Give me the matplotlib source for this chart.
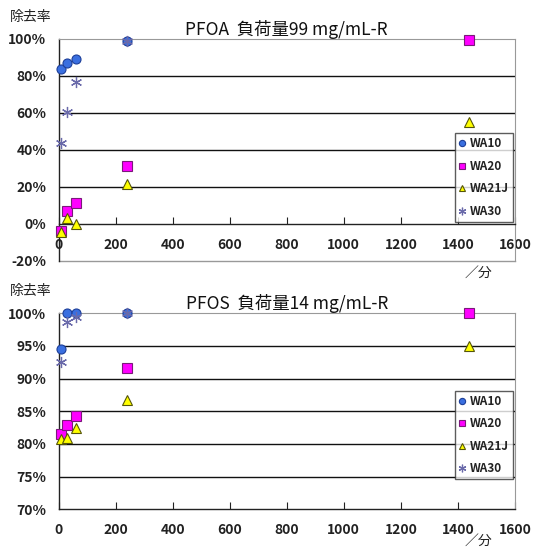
import matplotlib
matplotlib.use("Agg")
import matplotlib.pyplot as plt
from matplotlib.ticker import FuncFormatter
from matplotlib.lines import Line2D

plt.rcParams['font.family'] = ['Noto Sans CJK JP', 'DejaVu Sans']

series = ["WA10", "WA20", "WA21J", "WA30"]

# PFOA (top)
pfoa_x = {
    "WA10": [10, 30, 60, 240],
    "WA20": [10, 30, 60, 240, 1440],
    "WA21J": [10, 30, 60, 240, 1440],
    "WA30": [10, 30, 60, 240],
}
pfoa_y = {
    "WA10": [84, 87, 89, 99],
    "WA20": [-3.6, 7, 11.5, 31.5, 99.5],
    "WA21J": [-4.5, 3, 0, 21.6, 55],
    "WA30": [43.6, 60.5, 76.8, 99],
}
# PFOS (bottom)
pfos_x = {
    "WA10": [10, 30, 60, 240],
    "WA20": [10, 30, 60, 240, 1440],
    "WA21J": [10, 30, 60, 240, 1440],
    "WA30": [10, 30, 60, 240],
}
pfos_y = {
    "WA10": [94.6, 100, 100, 100],
    "WA20": [81.5, 82.9, 84.3, 91.6, 100],
    "WA21J": [80.7, 80.9, 82.4, 86.8, 95],
    "WA30": [92.5, 98.6, 99.5, 100],
}

x_ticks = [0, 200, 400, 600, 800, 1000, 1200, 1400, 1600]
pfoa_yticks = [-20, 0, 20, 40, 60, 80, 100]
pfos_yticks = [70, 75, 80, 85, 90, 95, 100]

styles = {
    "WA10": dict(marker='o', markerfacecolor='#3a6fe0', markeredgecolor='#1d3f99', markersize=6.5, markeredgewidth=0.8),
    "WA20": dict(marker='s', markerfacecolor='#ff00ff', markeredgecolor='#7a1a7a', markersize=6.5, markeredgewidth=0.8),
    "WA21J": dict(marker='^', markerfacecolor='#ffff00', markeredgecolor='#55550a', markersize=7, markeredgewidth=0.8),
    "WA30": dict(marker=(6, 2, 0), markerfacecolor='#6a6aaa', markeredgecolor='#6a6aaa', markersize=8, markeredgewidth=0.9),
}
leg_sizes = {"WA10": 4.5, "WA20": 4.5, "WA21J": 5, "WA30": 5.5}

fig = plt.figure(figsize=(5.33, 5.49), dpi=100)

def make(ax, xs, ys, yticks, ylim, xaxis_at, title, leg_y):
    for s in series:
        ax.plot(xs[s], ys[s], linestyle='none', clip_on=False, zorder=3, label=s, **styles[s])
    ax.set_xlim(0, 1600)
    ax.set_ylim(*ylim)
    ax.set_yticks(yticks)
    ax.set_xticks(x_ticks)
    ax.yaxis.set_major_formatter(FuncFormatter(lambda v, p: f"{int(round(v))}%"))
    for yv in yticks:
        if ylim[0] < yv < ylim[1] and yv != xaxis_at:
            ax.axhline(yv, color='#111111', linewidth=1.0, zorder=1)
    ax.spines['top'].set_color('#999999')
    ax.spines['right'].set_color('#999999')
    ax.spines['left'].set_color('#222222')
    ax.spines['left'].set_linewidth(1.0)
    ax.spines['bottom'].set_position(('data', xaxis_at))
    ax.spines['bottom'].set_color('#222222')
    ax.spines['bottom'].set_linewidth(1.0)
    if xaxis_at != ylim[0]:
        ax.axhline(ylim[0], color='#999999', linewidth=1.0, zorder=1, clip_on=False)
    ax.tick_params(axis='x', direction='in', length=5, color='#222222', pad=10,
                   labelsize=10, labelcolor='#222222')
    ax.tick_params(axis='y', length=0, pad=9, labelsize=10, labelcolor='#222222')
    for lab in ax.get_xticklabels() + ax.get_yticklabels():
        lab.set_fontweight('bold')
    ax.set_title(title, fontsize=12.5, color='#111111', pad=3)
    handles = []
    for s in series:
        st = dict(styles[s])
        st['markersize'] = leg_sizes[s]
        handles.append(Line2D([], [], linestyle='none', **st))
    leg = ax.legend(handles, series, loc='lower right', bbox_to_anchor=(0.995, leg_y),
                    bbox_transform=ax.transAxes,
                    frameon=True, fancybox=False, edgecolor='#333333', fontsize=8.5,
                    handlelength=0.6, handletextpad=0.3, borderpad=0.35, labelspacing=0.8,
                    borderaxespad=0.0)
    leg.get_frame().set_linewidth(1.0)
    for t in leg.get_texts():
        t.set_color('#222222')
        t.set_fontweight('bold')
    return leg

ax1 = fig.add_axes([0.110, 0.5246, 0.856, 0.4044])
make(ax1, pfoa_x, pfoa_y, pfoa_yticks, (-20, 100), 0, "PFOA  負荷量99 mg/mL-R", 0.176)

ax2 = fig.add_axes([0.110, 0.0723, 0.856, 0.3570])
make(ax2, pfos_x, pfos_y, pfos_yticks, (70, 100), 70, "PFOS  負荷量14 mg/mL-R", 0.153)

fig.text(10 / 533, 1 - 17 / 549, "除去率", fontsize=10, color='#222222', va='center', ha='left')
fig.text(10 / 533, 1 - 291 / 549, "除去率", fontsize=10, color='#222222', va='center', ha='left')
fig.text(478 / 533, 1 - 273 / 549, "／分", fontsize=10, color='#222222', va='center', ha='center')
fig.text(478 / 533, 1 - 541 / 549, "／分", fontsize=10, color='#222222', va='center', ha='center')

fig.savefig("out.png", dpi=100)
